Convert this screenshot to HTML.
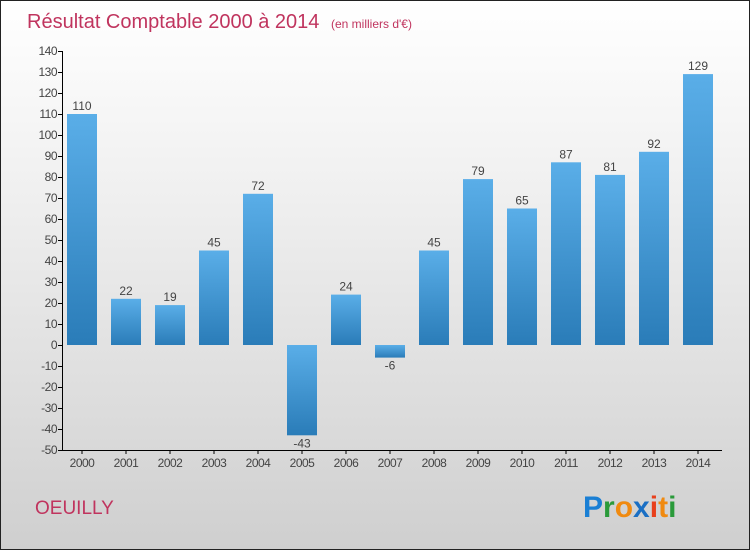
<!DOCTYPE html>
<html><head><meta charset="utf-8"><style>
body{margin:0;width:750px;height:550px;overflow:hidden;font-family:"Liberation Sans",sans-serif}
#root{position:relative;width:748px;height:548px;border:1px solid #222;background:linear-gradient(#fff,#f2f2f2 30%,#dcdcdc 75%,#cfcfcf)}
</style></head><body>
<div id="root">
<svg id="chart" width="748" height="548">
<text x="26" y="27" font-size="20" fill="#c0345e">Résultat Comptable 2000 à 2014 <tspan font-size="12" dx="6">(en milliers d'€)</tspan></text>
<text x="34" y="513" font-size="19" fill="#c0345e">OEUILLY</text>
<g font-size="30" font-weight="bold" font-family="'Liberation Sans',sans-serif">
<text x="582" y="516"><tspan fill="#1a7fd4">P</tspan><tspan fill="#2a9a3a">r</tspan><tspan fill="#f08a10">o</tspan><tspan fill="#1a6fc4">x</tspan><tspan fill="#e8401c">i</tspan><tspan fill="#f08a10">t</tspan><tspan fill="#2a9a3a">i</tspan></text>
</g>
<defs><linearGradient id="bg" x1="0" y1="0" x2="0" y2="1"><stop offset="0" stop-color="#5aaee8"/><stop offset="1" stop-color="#2a7cb8"/></linearGradient></defs>
<g id="bars"></g><g id="axes"></g>
</svg></div>
<script>
const years=["2000","2001","2002","2003","2004","2005","2006","2007","2008","2009","2010","2011","2012","2013","2014"];
const values=[110,22,19,45,72,-43,24,-6,45,79,65,87,81,92,129];
const yTicks=[140,130,120,110,100,90,80,70,60,50,40,30,20,10,0,-10,-20,-30,-40,-50];
const NS="http://www.w3.org/2000/svg";
const yMin=-50,yMax=140,plotTop=50,plotBot=449;
const y=v=>plotBot-(v-yMin)/(yMax-yMin)*(plotBot-plotTop);
const x=i=>81+i*44;
const bars=document.getElementById('bars'),axes=document.getElementById('axes');
function mk(t,a,p){const e=document.createElementNS(NS,t);for(const k in a)e.setAttribute(k,a[k]);p.appendChild(e);return e;}
values.forEach((v,i)=>{
 const y0=y(0),yv=y(v);
 const r=mk('rect',{x:x(i)-15,y:Math.min(y0,yv),width:30,height:Math.abs(yv-y0),fill:'url(#bg)'},bars);
 
 
 const t=mk('text',{x:x(i),y:v>=0?yv-4:yv+12,'text-anchor':'middle','font-size':12,fill:'#444'},bars);
 t.textContent=v;
 
 
});
const ya=mk('line',{x1:61.5,y1:plotTop,x2:61.5,y2:plotBot,stroke:'#000'},axes);


const xa=mk('line',{x1:61,y1:plotBot+0.5,x2:721,y2:plotBot+0.5,stroke:'#000'},axes);


yTicks.forEach(v=>{
 mk('line',{x1:57,y1:y(v)+0.5,x2:61,y2:y(v)+0.5,stroke:'#000'},axes);
 const t=mk('text',{x:56,y:y(v)+4,'text-anchor':'end','font-size':12,fill:'#444','letter-spacing':'-0.5'},axes);
 t.textContent=v;
 
 
});
years.forEach((yr,i)=>{
 mk('line',{x1:x(i),y1:plotBot,x2:x(i),y2:plotBot+4,stroke:'#000'},axes);
 const t=mk('text',{x:x(i),y:plotBot+17,'text-anchor':'middle','font-size':12,fill:'#444','letter-spacing':'-0.5'},axes);
 t.textContent=yr;
 
 
});
</script>
</body></html>
